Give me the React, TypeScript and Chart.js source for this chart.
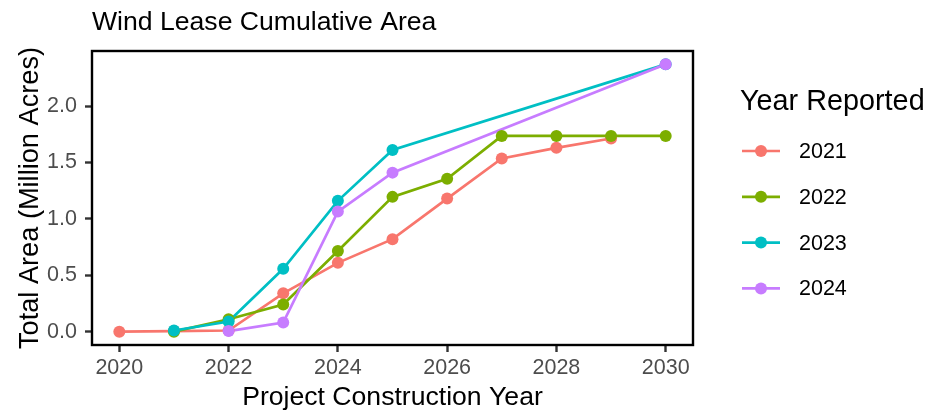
import React, { useEffect, useRef } from "react";
import { Chart, registerables } from "chart.js";

Chart.register(...registerables);

const years = [2020, 2021, 2022, 2023, 2024, 2025, 2026, 2027, 2028, 2029, 2030];
const reported2021 = [0.0, 0.005, 0.01, 0.34, 0.61, 0.82, 1.18, 1.535, 1.63, 1.713, null];
const reported2022 = [null, 0.0, 0.11, 0.24, 0.715, 1.195, 1.355, 1.735, 1.735, 1.735, 1.735];
const reported2023 = [null, 0.01, 0.09, 0.557, 1.16, 1.61, null, null, null, null, 2.37];
const reported2024 = [null, null, 0.005, 0.08, 1.065, 1.41, null, null, null, null, 2.37];

const seriesNames = ["2021", "2022", "2023", "2024"];
const seriesValues = [reported2021, reported2022, reported2023, reported2024];
const seriesColors = ["#F8766D", "#7CAE00", "#00BFC4", "#C77CFF"];

const xTicks = [2020, 2022, 2024, 2026, 2028, 2030];
const yTicks = [0, 0.5, 1.0, 1.5, 2.0];

const chartTitle = "Wind Lease Cumulative Area";
const xTitle = "Project Construction Year";
const yTitle = "Total Area (Million Acres)";
const legendTitle = "Year Reported";

const FONT = "'Liberation Sans', Arial, Helvetica, sans-serif";

function toPoints(vals: (number | null)[]) {
  return years
    .map((x, i) => ({ x, y: vals[i] }))
    .filter((p) => p.y !== null) as { x: number; y: number }[];
}

const LINE_W = 2.7;
const PT_R = 6;

const decorPlugin = {
  id: "decor",
  afterDatasetsDraw(chart: any) {
    const { ctx, chartArea } = chart;
    ctx.save();
    ctx.strokeStyle = "#000000";
    ctx.lineWidth = 2.4;
    ctx.strokeRect(chartArea.left, chartArea.top, chartArea.right - chartArea.left, chartArea.bottom - chartArea.top);
    ctx.restore();
  },
  afterDraw(chart: any) {
    const { ctx } = chart;
    ctx.save();
    // title
    ctx.fillStyle = "#000000";
    ctx.font = `26.6px ${FONT}`;
    ctx.textAlign = "left";
    ctx.textBaseline = "alphabetic";
    ctx.fillText(chartTitle, 92, 30);
    // legend
    ctx.font = `28.8px ${FONT}`;
    ctx.fillText(legendTitle, 740, 110);
    ctx.font = `21.5px ${FONT}`;
    ctx.textBaseline = "middle";
    seriesNames.forEach((name, i) => {
      const y = 151 + i * 45.8;
      ctx.strokeStyle = seriesColors[i];
      ctx.lineWidth = LINE_W;
      ctx.beginPath();
      ctx.moveTo(742, y);
      ctx.lineTo(780, y);
      ctx.stroke();
      ctx.fillStyle = seriesColors[i];
      ctx.beginPath();
      ctx.arc(761, y, PT_R, 0, Math.PI * 2);
      ctx.fill();
      ctx.fillStyle = "#000000";
      ctx.fillText(name, 799, y + 1);
    });
    ctx.restore();
  },
};

export default function App() {
  const ref = useRef<HTMLCanvasElement | null>(null);

  useEffect(() => {
    if (!ref.current) return;
    Chart.defaults.font.family = FONT;

    const lineSets = seriesNames.map((name, i) => ({
      label: name + " line",
      data: toPoints(seriesValues[i]),
      borderColor: seriesColors[i],
      backgroundColor: seriesColors[i],
      borderWidth: LINE_W,
      pointRadius: 0,
      pointHoverRadius: 0,
      tension: 0,
      fill: false,
      order: 100 - i,
    }));
    const pointSets = seriesNames.map((name, i) => ({
      label: name,
      data: toPoints(seriesValues[i]),
      borderColor: seriesColors[i],
      backgroundColor: seriesColors[i],
      showLine: false,
      pointRadius: PT_R,
      pointBorderWidth: 0,
      pointHoverRadius: PT_R,
      order: 10 - i,
    }));

    const tickGrid = {
      drawOnChartArea: false,
      drawTicks: true,
      tickLength: 7,
      tickColor: "#333333",
      tickWidth: 2.4,
    };

    const chart = new Chart(ref.current, {
      type: "line",
      data: { datasets: [...lineSets, ...pointSets] as any },
      options: {
        animation: false,
        responsive: false,
        layout: { padding: { top: 51, right: 237, bottom: 0, left: 0 } },
        plugins: {
          legend: { display: false },
          title: { display: false },
          tooltip: { enabled: false },
        },
        scales: {
          x: {
            type: "linear",
            min: 2019.5,
            max: 2030.5,
            afterBuildTicks: (s: any) => {
              s.ticks = xTicks.map((v) => ({ value: v }));
            },
            afterFit: (s: any) => {
              s.height = 70;
            },
            ticks: {
              color: "#4D4D4D",
              font: { size: 21.5 },
              padding: 3,
              maxRotation: 0,
              autoSkip: false,
              callback: (v: any) => String(v),
            },
            grid: tickGrid,
            border: { display: false },
            title: {
              display: true,
              text: xTitle,
              color: "#000000",
              font: { size: 26.6 },
              padding: { top: 0, bottom: 1 },
            },
          },
          y: {
            type: "linear",
            min: -0.1185,
            max: 2.4885,
            afterBuildTicks: (s: any) => {
              s.ticks = yTicks.map((v) => ({ value: v }));
            },
            afterFit: (s: any) => {
              s.width = 92;
            },
            ticks: {
              color: "#4D4D4D",
              font: { size: 21.5 },
              padding: 8,
              callback: (v: any) => Number(v).toFixed(1),
            },
            grid: tickGrid,
            border: { display: false },
            title: {
              display: true,
              text: yTitle,
              color: "#000000",
              font: { size: 27.2 },
              padding: { top: 14, bottom: 0 },
            },
          },
        },
      } as any,
      plugins: [decorPlugin],
    });
    return () => chart.destroy();
  }, []);

  return (
    <div style={{ position: "fixed", left: 0, top: 0, width: 930, height: 415, background: "#ffffff" }}>
      <canvas ref={ref} width={930} height={415} style={{ display: "block" }} />
    </div>
  );
}
